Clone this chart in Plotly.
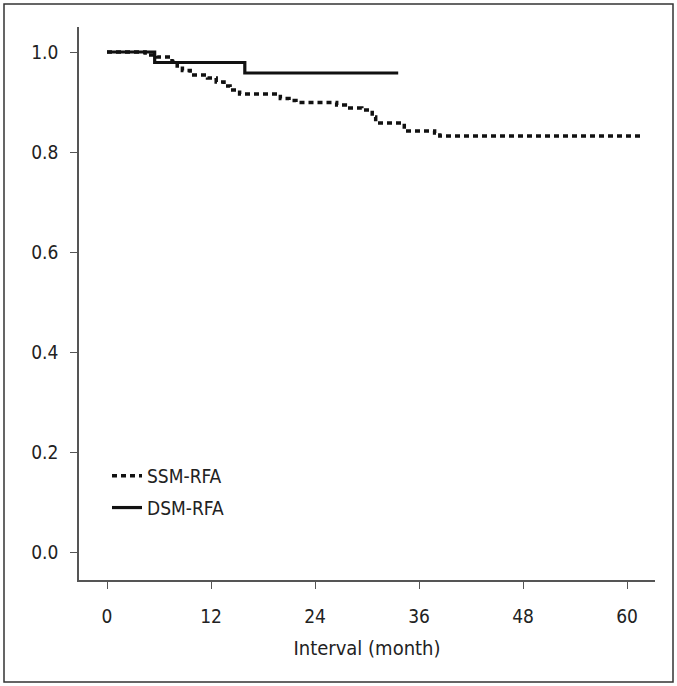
import plotly.graph_objects as go

# Kaplan-Meier step data (months, survival)
ssm_time = [0, 4.4, 5.8, 7.5, 8.1, 8.7, 9.6, 11.6, 12.6, 13.5, 14.2, 15.3, 20.0, 21.0,
            21.8, 26.5, 27.5, 29.4, 30.6, 31.0, 34.3, 37.8, 38.4, 61.7]
ssm_surv = [1.0, 0.994, 0.99, 0.981, 0.972, 0.963, 0.954, 0.948, 0.94, 0.932, 0.924, 0.916,
            0.907, 0.903, 0.899, 0.894, 0.888, 0.884, 0.87, 0.858, 0.842, 0.838, 0.832, 0.832]

dsm_time = [0, 5.5, 15.9, 33.6]
dsm_surv = [1.0, 0.979, 0.958, 0.958]

x_ticks = [0, 12, 24, 36, 48, 60]
y_ticks = [0.0, 0.2, 0.4, 0.6, 0.8, 1.0]

FONT = "DejaVu Sans Condensed, DejaVu Sans, sans-serif"

fig = go.Figure()
fig.add_trace(go.Scatter(x=ssm_time, y=ssm_surv, mode="lines", name="SSM-RFA",
                         legendgroup="a",
                         line=dict(shape="hv", color="#111111", width=3.5, dash="5px,4px")))
fig.add_trace(go.Scatter(x=dsm_time, y=dsm_surv, mode="lines", name="DSM-RFA",
                         legendgroup="b",
                         line=dict(shape="hv", color="#111111", width=3.2)))

W, H = 677, 686
L, R, T, B = 79, 22, 27, 106
pw, ph = W - L - R, H - T - B

def px_x(p):
    return (p - L) / pw

def px_y(p):
    return (H - B - p) / ph

fig.add_shape(type="rect", xref="paper", yref="paper",
              x0=px_x(4), x1=px_x(673), y0=px_y(682), y1=px_y(4),
              line=dict(color="#333333", width=1.5), layer="below")

fig.update_layout(
    width=W, height=H,
    margin=dict(l=L, r=R, t=T, b=B),
    paper_bgcolor="white", plot_bgcolor="white",
    font=dict(family=FONT, size=19, color="#222222"),
    showlegend=True,
    legend=dict(x=px_x(107), y=px_y(457), xanchor="left", yanchor="top",
                bgcolor="rgba(0,0,0,0)", font=dict(size=19, family=FONT),
                itemwidth=30, tracegroupgap=4, traceorder="grouped"),
    xaxis=dict(range=[(L - 107) / 8.667, (L + pw - 107) / 8.667],
               tickvals=x_ticks, ticktext=[str(v) for v in x_ticks],
               showline=True, linecolor="#555555", linewidth=1.5,
               ticks="outside", ticklen=7, tickcolor="#555555", tickwidth=1.2,
               ticklabelstandoff=11,
               showgrid=False, zeroline=False,
               title=dict(text="Interval (month)", font=dict(size=20, family=FONT), standoff=15)),
    yaxis=dict(range=[(552 - (H - B)) / 500, (552 - T) / 500],
               tickvals=y_ticks, ticktext=[f"{v:.1f}" for v in y_ticks],
               showline=True, linecolor="#555555", linewidth=1.5,
               ticks="outside", ticklen=7, tickcolor="#555555", tickwidth=1.2,
               ticklabelstandoff=8,
               showgrid=False, zeroline=False),
)

fig.write_html("out.html", config={"displayModeBar": False},
               post_script="document.body.style.margin='0';")
